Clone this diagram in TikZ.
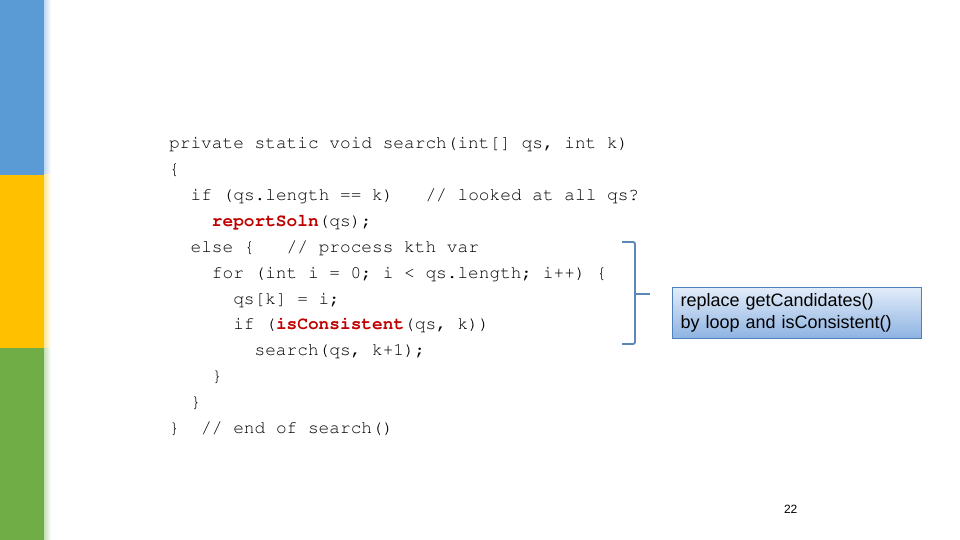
\documentclass[tikz,border=0pt]{standalone}
\usepackage[T1]{fontenc}
\usepackage{fontspec}
\setmainfont{Liberation Sans}
\newcommand{\codefont}{\fontencoding{T1}\fontfamily{pcr}\selectfont}
\usetikzlibrary{calc}
\definecolor{barblue}{HTML}{5B9BD5}
\definecolor{baryellow}{HTML}{FFC000}
\definecolor{bargreen}{HTML}{70AD47}
\definecolor{codered}{HTML}{C00000}
\definecolor{bracketblue}{HTML}{5A86B8}
\definecolor{notetop}{HTML}{E2ECF9}
\definecolor{notebottom}{HTML}{8DB3E2}
\definecolor{noteborder}{HTML}{4F81BD}
\newcommand{\hl}[1]{\textbf{\color{codered}#1}}
\tikzset{
  codeline/.style={anchor=base west,inner sep=0pt,font=\codefont\fontsize{17.8}{20}\selectfont},
  notebox/.style={draw=noteborder,line width=1.2pt,top color=notetop,bottom color=notebottom,
    anchor=north west,minimum width=249pt,minimum height=51pt,text width=233pt,inner xsep=8pt,
    align=left,font=\fontsize{18}{22}\selectfont},
}
\begin{document}
\begin{tikzpicture}[x=1pt,y=-1pt]
      \useasboundingbox[fill=white](0,0) rectangle (960,540);
      % side bars
      \fill[barblue](0,0) rectangle (44,175);
      \fill[baryellow](0,175) rectangle (44,348);
      \fill[bargreen](0,348) rectangle (44,540);
      \shade[left color=barblue!40,right color=white](44,0) rectangle (51,175);
      \shade[left color=baryellow!40,right color=white](44,175) rectangle (51,348);
      \shade[left color=bargreen!40,right color=white](44,348) rectangle (51,540);
      % code
      \node[codeline](l1) at (169.0,149.00){private static void search(int[] qs, int k)};
      \node[codeline](l2) at (169.0,174.85){\{};
      \node[codeline](l3) at (190.4,200.70){if (qs.length == k)~~~// looked at all qs?};
      \node[codeline](l4) at (211.7,226.55){\hl{reportSoln}(qs);};
      \node[codeline](l5) at (190.4,252.40){else \{~~~// process kth var};
      \node[codeline](l6) at (211.7,278.25){for (int i = 0; i < qs.length; i++) \{};
      \node[codeline](l7) at (233.1,304.10){qs[k] = i;};
      \node[codeline](l8) at (233.1,329.95){if (\hl{isConsistent}(qs, k))};
      \node[codeline](l9) at (254.4,355.80){search(qs, k+1);};
      \node[codeline](l10) at (211.7,381.65){\}};
      \node[codeline](l11) at (190.4,407.50){\}};
      \node[codeline](l12) at (169.0,433.35){\}~~// end of search()};
      % bracket and note
      \coordinate(T)at(622,242);
      \coordinate(B)at(622,344);
      \coordinate(M)at(635,294);
      \draw[bracketblue,line width=1.8pt,rounded corners=2pt](T)--(T -| M)--(B -| M)--(B);
      \draw[bracketblue,line width=1.8pt](M)--++(15,0);
      \node[notebox](note) at (672,287){replace getCandidates()\\by loop and isConsistent()};
      \node[anchor=base,font=\fontsize{12}{14}\selectfont](page) at (790.7,513){22};
\end{tikzpicture}
\end{document}
